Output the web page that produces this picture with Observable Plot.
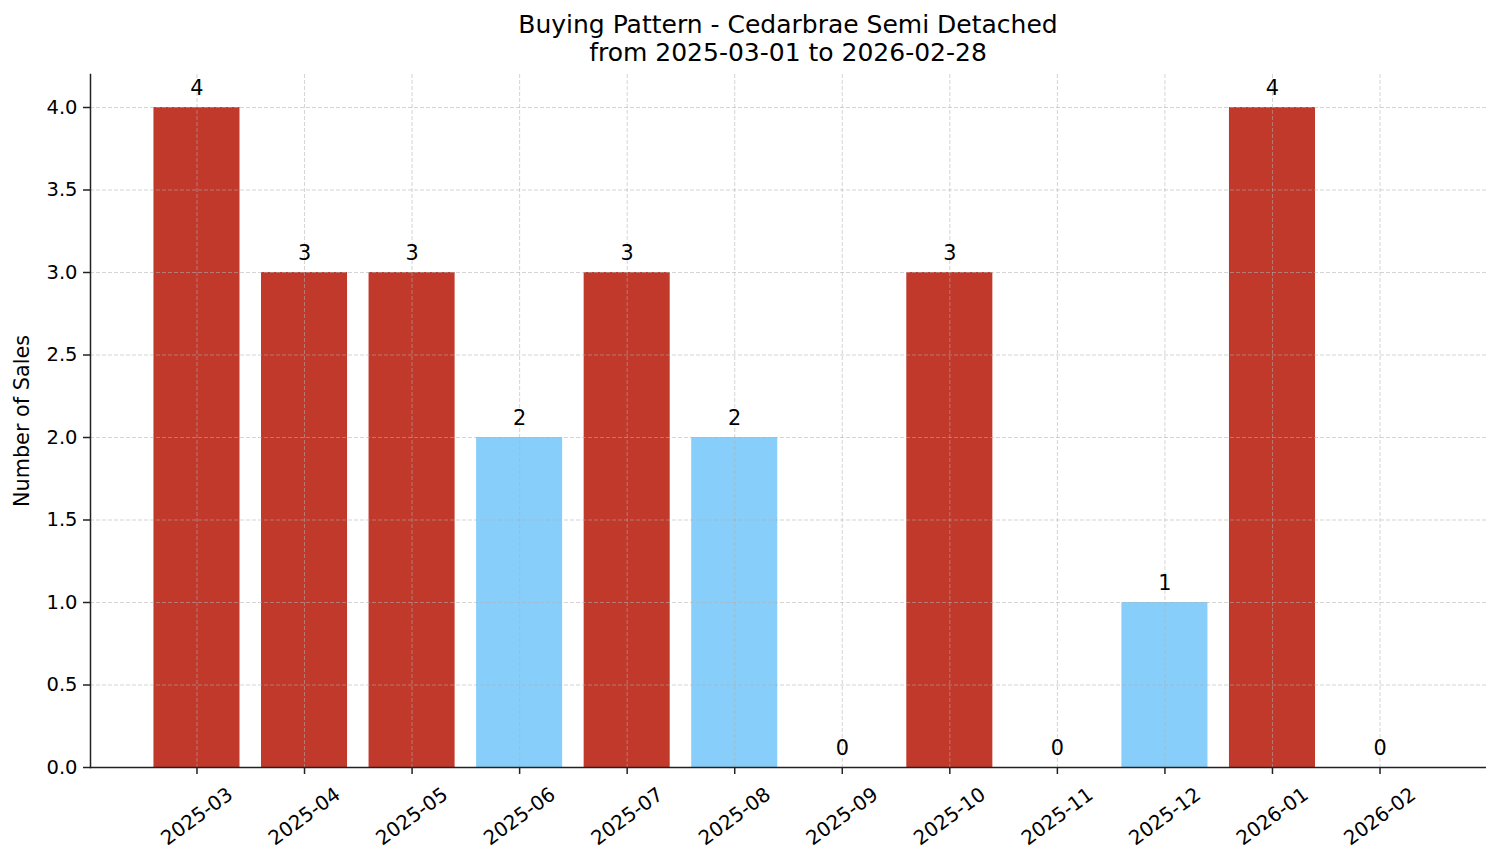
<!DOCTYPE html>
<html>
<head>
<meta charset="utf-8">
<script src="https://cdn.jsdelivr.net/npm/d3@7"></script>
<script src="https://cdn.jsdelivr.net/npm/@observablehq/plot@0.6"></script>
<style>
  html, body { margin: 0; padding: 0; background: #fff; }
  #wrap { position: relative; width: 1501px; height: 863px; font-family: "DejaVu Sans", sans-serif; }
  .title { position: absolute; left: 90px; width: 1396px; text-align: center; font-size: 25px; line-height: 28px; color: #000; }
</style>
</head>
<body>
<div id="wrap">
  <div class="title" style="top:11px">Buying Pattern - Cedarbrae Semi Detached</div>
  <div class="title" style="top:39px">from 2025-03-01 to 2026-02-28</div>
  <div id="chart"></div>
</div>
<script>
const months = ["2025-03","2025-04","2025-05","2025-06","2025-07","2025-08","2025-09","2025-10","2025-11","2025-12","2026-01","2026-02"];
const sales  = [4, 3, 3, 2, 3, 2, 0, 3, 0, 1, 4, 0];
const yTicks = [0, 0.5, 1, 1.5, 2, 2.5, 3, 3.5, 4];

const mean = d3.mean(sales);
const data = months.map((m, i) => ({month: m, count: sales[i], color: sales[i] > mean ? "#c0392b" : "#87cefa"}));

const gridStyle = {stroke: "#b0b0b0", strokeOpacity: 0.55, strokeWidth: 1, strokeDasharray: "4,2"};

const chart = Plot.plot({
  width: 1501,
  height: 863,
  marginLeft: 90,
  marginRight: 15,
  marginTop: 74,
  marginBottom: 96,
  style: {fontFamily: "DejaVu Sans, sans-serif", background: "transparent", color: "#000"},
  x: {type: "band", domain: months, paddingInner: 0.2, paddingOuter: 0.59, round: false, axis: null},
  y: {domain: [0, 4.2], axis: null},
  marks: [
    Plot.barY(data, {x: "month", y: "count", fill: "color"}),
    Plot.gridX(months, {x: d => d, ...gridStyle}),
    Plot.ruleY(yTicks.filter(d => d > 0), {...gridStyle}),
    Plot.axisY({ticks: yTicks, tickFormat: d3.format(".1f"), tickSize: 7, tickPadding: 6, fontSize: 19.5, stroke: "#222", strokeWidth: 1.5, label: null, color: "#000"}),
    Plot.axisX({ticks: months, tickSize: 7, tickFormat: () => "", stroke: "#222", strokeWidth: 1.5, label: null}),
    Plot.text(months, {x: d => d, text: d => d, frameAnchor: "bottom", dy: 49, rotate: -36, textAnchor: "middle", lineAnchor: "middle", fontSize: 19.8, fill: "#000"}),
    Plot.text(["Number of Sales"], {text: d => d, frameAnchor: "left", dx: -68, rotate: -90, textAnchor: "middle", lineAnchor: "middle", fontSize: 20.8, fill: "#000"}),
    Plot.text(data, {x: "month", y: "count", text: d => String(d.count), dy: -13, lineAnchor: "bottom", textAnchor: "middle", fontSize: 20.8, fill: "#000"}),
    Plot.ruleY([0], {stroke: "#222", strokeWidth: 1.5}),
    Plot.frame({anchor: "left", stroke: "#222", strokeWidth: 1.5})
  ]
});
document.getElementById("chart").appendChild(chart);
</script>
</body>
</html>
